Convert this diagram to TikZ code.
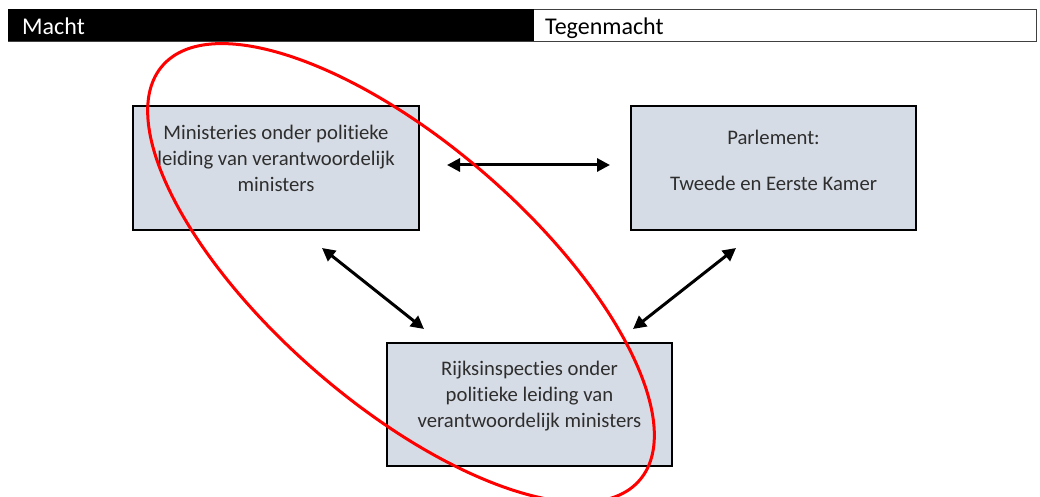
\documentclass[tikz,border=0pt]{standalone}
\usepackage{fontspec}
\setmainfont{Carlito}[Ligatures={NoCommon}]
\usetikzlibrary{arrows.meta}
\definecolor{boxfill}{HTML}{D6DCE5}
\definecolor{txt}{HTML}{2E2E2E}
\begin{document}
\begin{tikzpicture}[x=1pt,y=1pt,
  box/.style={draw=black, line width=2.4pt, fill=boxfill, minimum width=286pt, minimum height=124pt, inner sep=0pt},
  boxtext/.style={text=txt, font=\fontsize{20.7}{26}\selectfont, align=center, inner sep=0pt},
  hdrtext/.style={font=\fontsize{24}{28}\selectfont, anchor=base west, inner sep=0pt},
  link/.style={line width=3pt, {Triangle[length=13pt,width=13pt]}-{Triangle[length=13pt,width=13pt]}},
  ]
\useasboundingbox (0,0) rectangle (1040,-497);
\fill[white] (0,0) rectangle (1040,-497);
% header
\node[draw=black!75, line width=0.8pt, minimum width=1028pt, minimum height=32pt, anchor=north west, inner sep=0pt] (hdr) at (8,-9) {};
\node[fill=black, minimum width=526pt, minimum height=32pt, anchor=north west, inner sep=0pt] (macht) at (8,-9) {};
\node[hdrtext, text=white] (machtlabel) at (22,-34.5) {Macht};
\node[hdrtext, text=black] (tegenlabel) at (545,-34.5) {Tegenmacht};
% boxes
\node[box] (min) at (276,-168) {};
\node[box, minimum width=285pt] (parl) at (773.5,-168) {};
\node[box, minimum width=285pt, minimum height=123pt] (rijk) at (529.5,-404.5) {};
\node[boxtext] (mintext) at (276,-158) {Ministeries onder politieke\\leiding van verantwoordelijk\\ministers};
\node[boxtext] (parltext) at (773.5,-160) {Parlement:\\[20pt]Tweede en Eerste Kamer};
\node[boxtext] (rijktext) at (529.5,-396) {Rijksinspecties onder\\politieke leiding van\\verantwoordelijk ministers};
% connectors
\coordinate (h1) at (447,-165);
\coordinate (h2) at (610,-165);
\coordinate (l1) at (322,-248);
\coordinate (l2) at (424,-329);
\coordinate (r1) at (736,-248);
\coordinate (r2) at (633,-329);
\draw[link] (h1) -- (h2);
\draw[link] (l1) -- (l2);
\draw[link] (r1) -- (r2);
% red ellipse
\draw[red, line width=3pt] (401,-273) ellipse [x radius=316pt, y radius=130pt, rotate=-41];
\end{tikzpicture}
\end{document}
